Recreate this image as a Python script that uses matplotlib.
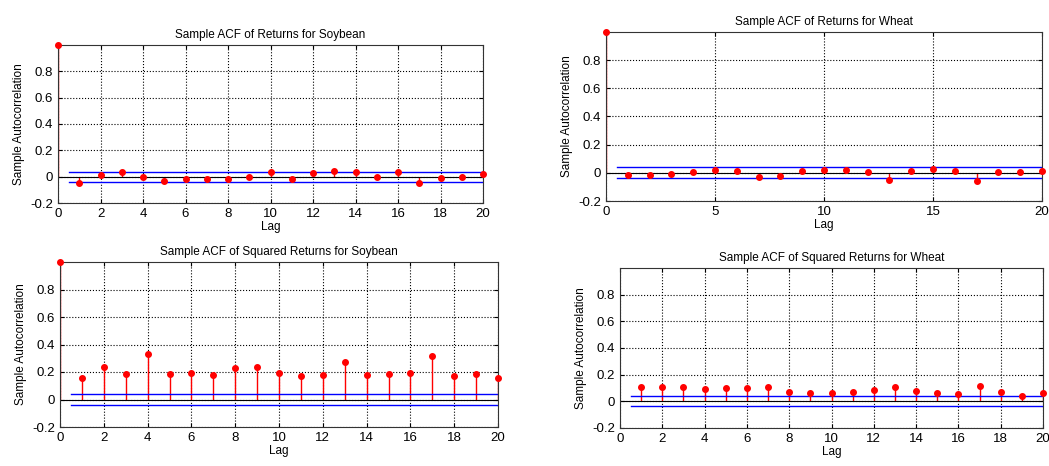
import matplotlib
matplotlib.use('Agg')
import matplotlib.pyplot as plt
import numpy as np

plt.rcParams['font.family'] = ['Liberation Sans', 'DejaVu Sans']
plt.rcParams['font.size'] = 9

# sample ACF values, lag 0..20
lags = np.arange(0, 21)
acf_soy = [1.0, -0.045, 0.01, 0.035, 0.0, -0.03, -0.015, -0.015, -0.015, 0.0, 0.035,
           -0.015, 0.025, 0.045, 0.035, 0.0, 0.035, -0.045, -0.01, 0.0, 0.02]
acf_wheat = [1.0, -0.015, -0.015, -0.01, 0.008, 0.02, 0.015, -0.03, -0.022, 0.015, 0.02,
             0.02, 0.008, -0.05, 0.015, 0.025, 0.015, -0.058, 0.008, 0.008, 0.015]
acf_soy_sq = [1.0, 0.155, 0.24, 0.185, 0.33, 0.185, 0.19, 0.175, 0.23, 0.24, 0.19,
              0.17, 0.175, 0.275, 0.175, 0.185, 0.19, 0.32, 0.17, 0.185, 0.16]
# lag 0 not visible in the wheat squared panel
acf_wheat_sq = [np.nan, 0.105, 0.105, 0.105, 0.09, 0.1, 0.1, 0.105, 0.07, 0.06, 0.06,
                0.07, 0.085, 0.105, 0.075, 0.06, 0.055, 0.115, 0.07, 0.04, 0.06]

bounds = [0.037, 0.038, 0.037, 0.038]
titles = ['Sample ACF of Returns for Soybean', 'Sample ACF of Returns for Wheat',
          'Sample ACF of Squared Returns for Soybean', 'Sample ACF of Squared Returns for Wheat']
xtick_sets = [np.arange(0, 21, 2), np.arange(0, 21, 5), np.arange(0, 21, 2), np.arange(0, 21, 2)]
yticks = [-0.2, 0, 0.2, 0.4, 0.6, 0.8]
ytick_labels = ['-0.2', '0', '0.2', '0.4', '0.6', '0.8']

# axes rectangles in pixels: left, right, top, bottom
W, H = 1049, 466
rects = [(58, 483, 45, 203), (606, 1042, 32, 201), (60, 498, 262, 427), (620, 1043, 268, 428)]

fig = plt.figure(figsize=(W / 100, H / 100), dpi=100)

for acf, b, title, xt, (l, r, t, bt) in zip([acf_soy, acf_wheat, acf_soy_sq, acf_wheat_sq],
                                            bounds, titles, xtick_sets, rects):
    ax = fig.add_axes([l / W, 1 - bt / H, (r - l) / W, (bt - t) / H])
    vals = np.array(acf)
    ax.vlines(lags, 0, vals, colors='red', linewidth=1)
    ax.plot(lags, vals, 'o', color='red', markersize=4, clip_on=False, zorder=4)
    ax.axhline(0, color='black', linewidth=0.8)
    ax.plot([0.5, 20], [b, b], color='blue', linewidth=1)
    ax.plot([0.5, 20], [-b, -b], color='blue', linewidth=1)
    ax.set_xlim(0, 20)
    ax.set_ylim(-0.2, 1.0)
    ax.set_xticks(xt)
    ax.set_yticks(yticks)
    ax.set_yticklabels(ytick_labels)
    ax.grid(True, color='black', linestyle=':', linewidth=0.8)
    ax.tick_params(direction='in', top=True, right=True, length=3, labelsize=9.5)
    for sp in ax.spines.values():
        sp.set_color('#333333')
    ax.set_title(title, fontsize=8.5, pad=5)
    ax.set_xlabel('Lag', fontsize=8.5, labelpad=1)
    ax.set_ylabel('Sample Autocorrelation', fontsize=8.5)

fig.savefig('out.png', dpi=100)
